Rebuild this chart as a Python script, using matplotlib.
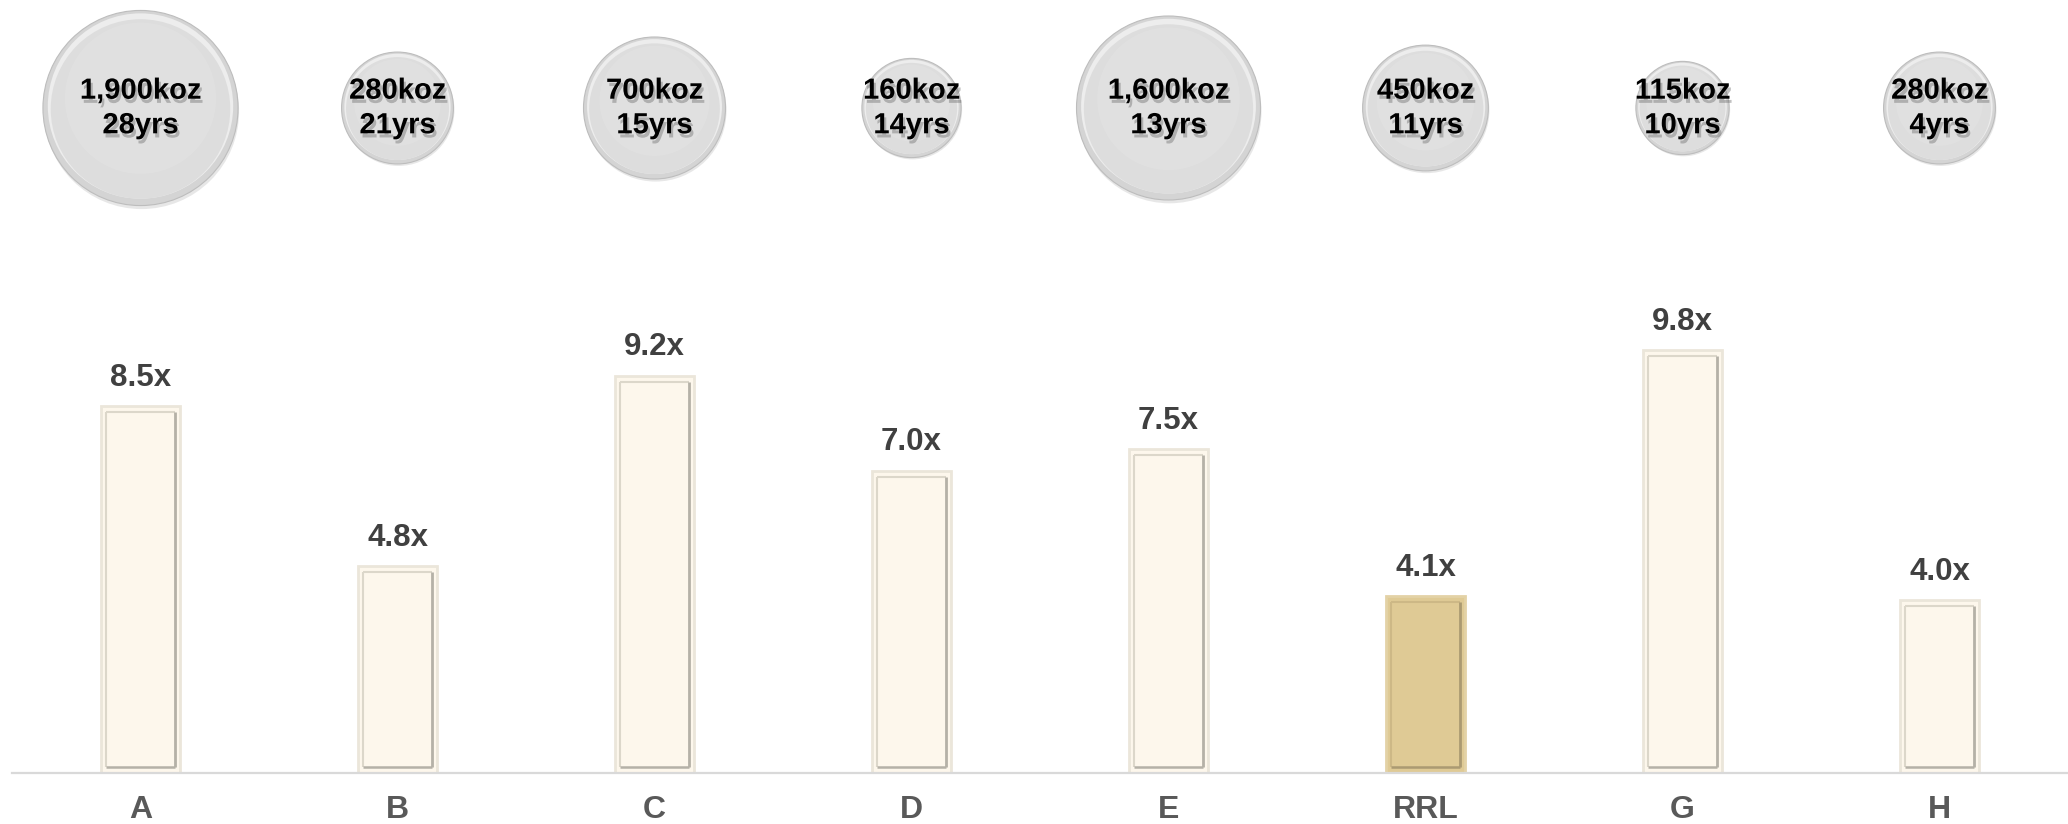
import matplotlib
matplotlib.use("Agg")
import matplotlib.pyplot as plt
import matplotlib.patheffects as pe
import numpy as np

# %%
# Data
companies = ["A", "B", "C", "D", "E", "RRL", "G", "H"]
multiples = [8.5, 4.8, 9.2, 7.0, 7.5, 4.1, 9.8, 4.0]
production_koz = [1900, 280, 700, 160, 1600, 450, 115, 280]
mine_life_yrs = [28, 21, 15, 14, 13, 11, 10, 4]
highlight = "RRL"

# %%
plt.rcParams["font.family"] = ["Liberation Sans", "DejaVu Sans"]
plt.rcParams["font.weight"] = "bold"

W, H, DPI = 2068, 824, 100
fig = plt.figure(figsize=(W / DPI, H / DPI), dpi=DPI)
base_px = 51          # axis line height from bottom, px
px_per_unit = 43.2
ax = fig.add_axes([12 / W, base_px / H, 1 - 12 / W, 1 - base_px / H])
ax.set_xlim(-0.5, len(companies) - 0.5)
ax.set_ylim(0, (H - base_px) / px_per_unit)

x = np.arange(len(companies))
vals = np.array(multiples)
is_hl = np.array([c == highlight for c in companies])
fills = np.where(is_hl, "#dfca95", "#fdf7ec")
rims = np.where(is_hl, "#e3d2a6", "#ebe6da")
dark = np.where(is_hl, "#ab9a72", "#b5b1a7")
light = np.where(is_hl, "#cdb886", "#dcd7ca")

# bars with a bevel look
bw = 0.31
ax.bar(x, vals, width=bw, color=fills, edgecolor=rims, linewidth=2, zorder=2)
ix = 0.022      # inner bevel inset, x units
iy = 0.14       # inner bevel inset, y units
ax.vlines(x - bw / 2 + ix, iy, vals - iy, colors=light, linewidth=1.5, zorder=3)
ax.hlines(vals - iy, x - bw / 2 + ix, x + bw / 2 - ix, colors=light, linewidth=1.5, zorder=3)
ax.vlines(x + bw / 2 - ix, iy, vals - iy, colors=dark, linewidth=2.0, zorder=3)
ax.hlines(np.full(len(x), iy), x - bw / 2 + ix, x + bw / 2 - ix, colors=dark, linewidth=1.8, zorder=3)

for xi, v in zip(x, vals):
    ax.annotate(f"{v:.1f}x", (xi, v), xytext=(0, 14.5), textcoords="offset points",
                ha="center", va="baseline", fontsize=22.5, color="#404040", fontweight="bold")

# %%
# bubbles: production (koz) and mine life
bubble_y = np.full(len(companies), (H - base_px - 108) / px_per_unit)
diam_px = 60 + 3.1 * np.sqrt(np.array(production_koz))
sizes = (diam_px * 72 / DPI) ** 2

ax.scatter(x + 0.004, bubble_y - diam_px * 0.018 / px_per_unit, s=sizes, color="#a0a0a0",
           alpha=0.25, zorder=4, linewidths=0)
ax.scatter(x, bubble_y, s=sizes, color="#d4d4d4", edgecolor="#bdbdbd", linewidths=0.8, zorder=5)
ax.scatter(x, bubble_y + diam_px * 0.01 / px_per_unit, s=sizes * 0.95 ** 2, color="#ededed",
           linewidths=0, zorder=6)
ax.scatter(x, bubble_y - diam_px * 0.005 / px_per_unit, s=sizes * 0.92 ** 2, color="#dddddd",
           linewidths=0, zorder=7)
ax.scatter(x, bubble_y + diam_px * 0.05 / px_per_unit, s=sizes * 0.6, color="#e3e3e3",
           alpha=0.6, linewidths=0, zorder=8)

shadow = [pe.withSimplePatchShadow(offset=(1.5, -3), shadow_rgbFace="#666666", alpha=0.4)]
for xi, yi, koz, yrs in zip(x, bubble_y, production_koz, mine_life_yrs):
    ax.text(xi, yi, f"{koz:,}koz\n{yrs}yrs", ha="center", va="center", fontsize=21,
            fontweight="bold", color="black", linespacing=1.3, zorder=9, path_effects=shadow)

# %%
ax.set_xticks(x)
ax.set_xticklabels(companies, fontsize=23, color="#595959", fontweight="bold")
ax.tick_params(axis="x", length=0, pad=16)
ax.set_yticks([])
for s in ["top", "left", "right"]:
    ax.spines[s].set_visible(False)
ax.spines["bottom"].set_color("#d9d9d9")
ax.spines["bottom"].set_linewidth(1.6)

fig.savefig("out.png", dpi=DPI)
